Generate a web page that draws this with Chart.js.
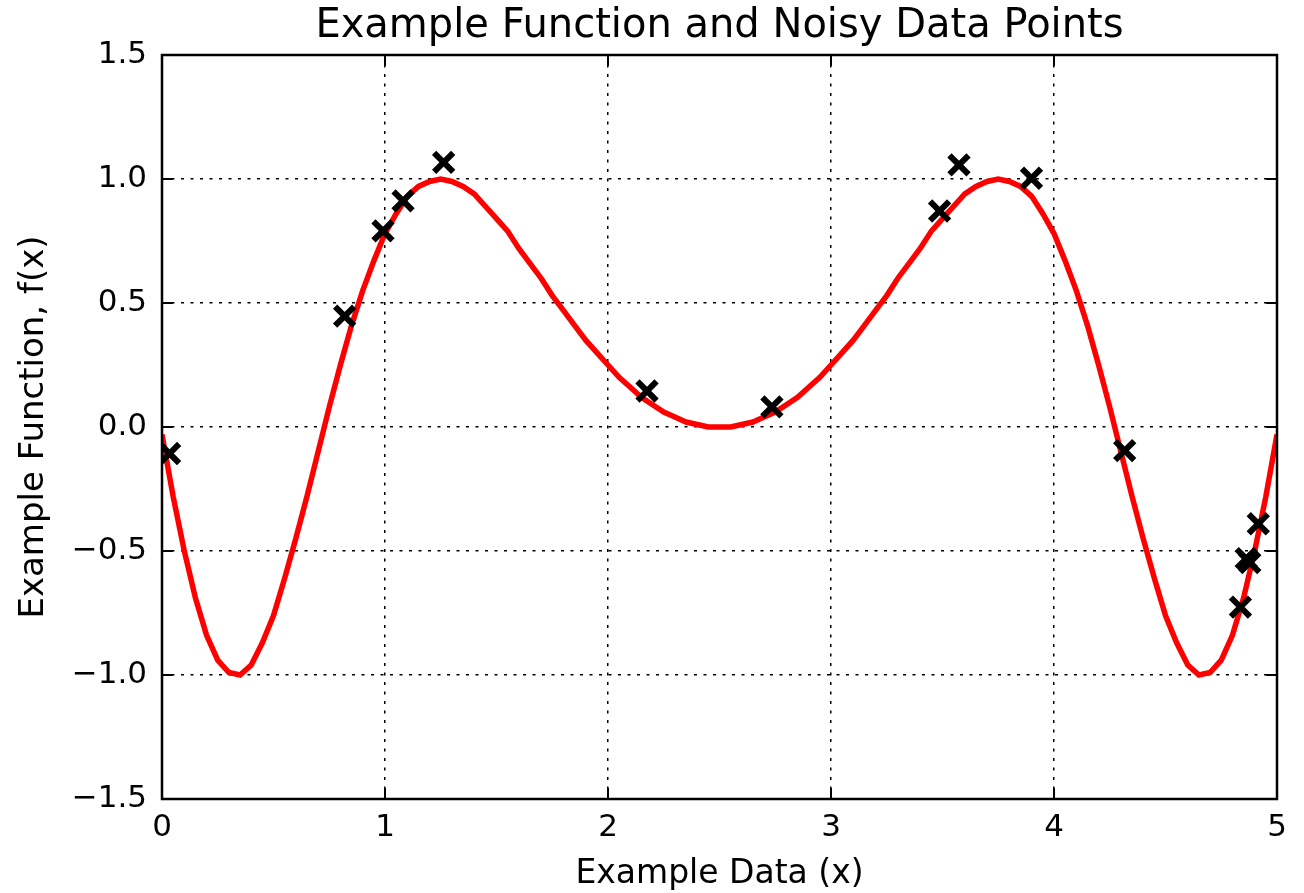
<!DOCTYPE html>
<html>
<head>
<meta charset="utf-8">
<script src="https://cdn.jsdelivr.net/npm/chart.js@4.4.1/dist/chart.umd.min.js"></script>
<style>
    body { margin: 0; background: #fff; }
    #graphique { display: block; }
</style>
</head>
<body>
<canvas id="graphique" width="1304" height="893"></canvas>
<script>
// courbe rouge (valeurs lues sur l'image, pas de 0.05)
const curveX = [0, 0.05, 0.1, 0.15, 0.2, 0.25, 0.3, 0.35, 0.4, 0.45,
    0.5, 0.55, 0.6, 0.65, 0.7, 0.75, 0.8, 0.85, 0.9, 0.95,
    1, 1.05, 1.1, 1.15, 1.2, 1.25, 1.3, 1.35, 1.4, 1.45,
    1.5, 1.55, 1.6, 1.65, 1.7, 1.75, 1.8, 1.85, 1.9, 1.95,
    2, 2.05, 2.1, 2.15, 2.2, 2.25, 2.3, 2.35, 2.4, 2.45,
    2.5, 2.55, 2.6, 2.65, 2.7, 2.75, 2.8, 2.85, 2.9, 2.95,
    3, 3.05, 3.1, 3.15, 3.2, 3.25, 3.3, 3.35, 3.4, 3.45,
    3.5, 3.55, 3.6, 3.65, 3.7, 3.75, 3.8, 3.85, 3.9, 3.95,
    4, 4.05, 4.1, 4.15, 4.2, 4.25, 4.3, 4.35, 4.4, 4.45,
    4.5, 4.55, 4.6, 4.65, 4.7, 4.75, 4.8, 4.85, 4.9, 4.95, 5];
const curveY = [-0.03, -0.28, -0.50, -0.69, -0.84, -0.94, -0.99, -1.00, -0.96, -0.87,
    -0.76, -0.61, -0.45, -0.28, -0.10, 0.08, 0.25, 0.41, 0.55, 0.67,
    0.78, 0.86, 0.93, 0.97, 0.99, 1.00, 0.99, 0.97, 0.94, 0.89,
    0.84, 0.79, 0.72, 0.66, 0.60, 0.53, 0.47, 0.41, 0.35, 0.30,
    0.25, 0.20, 0.16, 0.12, 0.09, 0.06, 0.04, 0.02, 0.01, 0.00,
    0.00, 0.00, 0.01, 0.02, 0.04, 0.06, 0.09, 0.12, 0.16, 0.20,
    0.25, 0.30, 0.35, 0.41, 0.47, 0.53, 0.60, 0.66, 0.72, 0.79,
    0.84, 0.89, 0.94, 0.97, 0.99, 1.00, 0.99, 0.97, 0.93, 0.86,
    0.78, 0.67, 0.55, 0.41, 0.25, 0.08, -0.10, -0.28, -0.45, -0.61,
    -0.76, -0.87, -0.96, -1.00, -0.99, -0.94, -0.84, -0.69, -0.50, -0.28, -0.03];

// points bruités (croix noires)
const noisyX = [0.034, 0.819, 0.991, 1.081, 1.263, 2.175, 2.735, 3.487, 3.574, 3.899,
    4.317, 4.836, 4.862, 4.878, 4.916];
const noisyY = [-0.107, 0.447, 0.791, 0.912, 1.067, 0.145, 0.081, 0.871, 1.057, 1.003,
    -0.095, -0.726, -0.531, -0.547, -0.390];

const xTicks = [0, 1, 2, 3, 4, 5];
const yTicks = [-1.5, -1.0, -0.5, 0.0, 0.5, 1.0, 1.5];

const titre = 'Example Function and Noisy Data Points';
const police = 'DejaVu Sans';
Chart.defaults.font.family = police;
Chart.defaults.color = '#000';

function toPoints(xs, ys) {
    const points = [];
    for (let i = 0; i < xs.length; i++) {
        points.push({x: xs[i], y: ys[i]});
    }
    return points;
}

// cadre noir + petites graduations vers l'intérieur (style matplotlib)
// + titre centré sur la zone du graphique et pas sur tout le canvas
const cadrePlugin = {
    id: 'cadre',
    afterDatasetsDraw(chart) {
        const ctx = chart.ctx;
        const area = chart.chartArea;
        const sx = chart.scales.x;
        const sy = chart.scales.y;
        const longueur = 11;

        ctx.save();
        ctx.strokeStyle = '#000';
        ctx.lineWidth = 2;
        ctx.beginPath();
        xTicks.forEach(function (v) {
            const px = sx.getPixelForValue(v);
            ctx.moveTo(px, area.bottom);
            ctx.lineTo(px, area.bottom - longueur);
            ctx.moveTo(px, area.top);
            ctx.lineTo(px, area.top + longueur);
        });
        yTicks.forEach(function (v) {
            const py = sy.getPixelForValue(v);
            ctx.moveTo(area.left, py);
            ctx.lineTo(area.left + longueur, py);
            ctx.moveTo(area.right, py);
            ctx.lineTo(area.right - longueur, py);
        });
        ctx.stroke();

        ctx.lineWidth = 2.5;
        ctx.strokeRect(area.left, area.top, area.right - area.left, area.bottom - area.top);

        ctx.fillStyle = '#000';
        ctx.font = '40px "' + police + '"';
        ctx.textAlign = 'center';
        ctx.textBaseline = 'alphabetic';
        ctx.fillText(titre, (area.left + area.right) / 2, 37);
        ctx.restore();
    }
};

const graph = document.getElementById('graphique');

new Chart(graph, {
    type: 'scatter',
    data: {
        datasets: [{
            data: toPoints(noisyX, noisyY),
            pointStyle: 'crossRot',
            pointRadius: 13.5,
            pointBorderWidth: 6,
            pointBorderColor: '#000',
            pointBackgroundColor: '#000',
            clip: 0
        }, {
            data: toPoints(curveX, curveY),
            showLine: true,
            borderColor: '#ff0000',
            borderWidth: 5.5,
            pointRadius: 0,
            tension: 0,
            clip: 0
        }]
    },
    options: {
        responsive: false,
        animation: false,
        events: [],
        layout: {
            padding: {left: 0, right: 27, top: 55, bottom: 0}
        },
        plugins: {
            legend: {display: false},
            tooltip: {enabled: false},
            title: {display: false}
        },
        scales: {
            x: {
                type: 'linear',
                min: 0,
                max: 5,
                afterFit: function (scale) { scale.height = 94; },
                afterBuildTicks: function (scale) {
                    scale.ticks = xTicks.map(v => ({value: v}));
                },
                ticks: {
                    font: {size: 31},
                    color: '#000',
                    padding: 10,
                    maxRotation: 0,
                    callback: v => String(v)
                },
                grid: {
                    color: '#000',
                    lineWidth: 1.5,
                    drawTicks: false
                },
                border: {display: false, dash: [3, 6.5]},
                title: {
                    display: true,
                    text: 'Example Data (x)',
                    color: '#000',
                    font: {size: 33, lineHeight: 1.1},
                    padding: {top: 0, bottom: 0}
                }
            },
            y: {
                type: 'linear',
                min: -1.5,
                max: 1.5,
                afterFit: function (scale) { scale.width = 162; },
                afterBuildTicks: function (scale) {
                    scale.ticks = yTicks.map(v => ({value: v}));
                },
                ticks: {
                    font: {size: 31},
                    color: '#000',
                    padding: 15,
                    callback: v => v.toFixed(1).replace('-', '\u2212')
                },
                grid: {
                    color: '#000',
                    lineWidth: 1.5,
                    drawTicks: false
                },
                border: {display: false, dash: [3, 6.5]},
                title: {
                    display: true,
                    text: 'Example Function, f(x)',
                    color: '#000',
                    font: {size: 34, lineHeight: 1.1},
                    padding: {top: 15, bottom: 0}
                }
            }
        }
    },
    plugins: [cadrePlugin]
});
</script>
</body>
</html>
